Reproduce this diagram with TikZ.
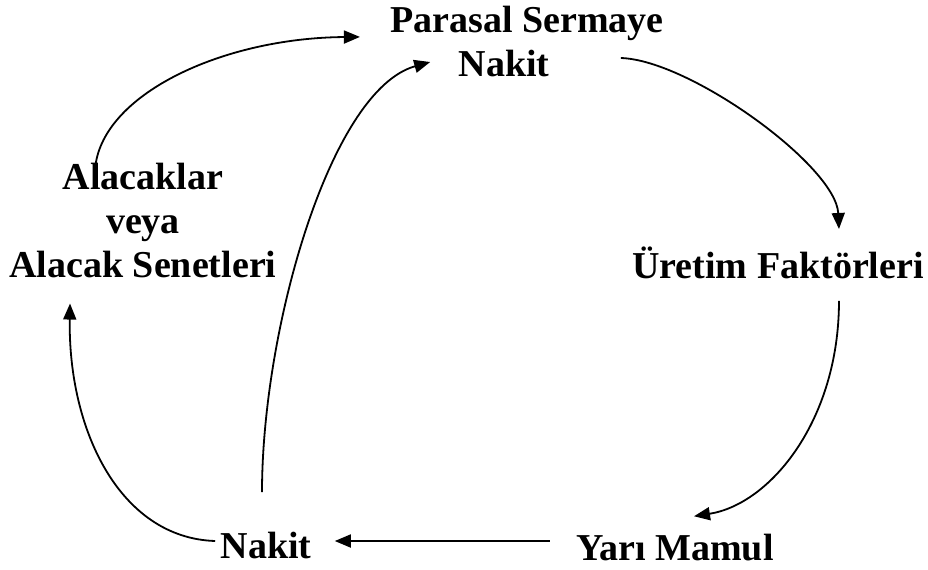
\documentclass[tikz,border=0pt]{standalone}
\usepackage{fontspec}
\setmainfont{Liberation Serif}
\usetikzlibrary{arrows.meta,calc}

\begin{document}
\begin{tikzpicture}[
    x=0.5pt, y=-0.5pt,
    stage/.style={inner sep=0pt, anchor=base, font=\fontsize{19}{22}\selectfont\bfseries},
    flow/.style={-{Triangle[length=8pt, width=6.5pt]}, line width=0.9pt},
  ]
  \useasboundingbox (0,0) rectangle (928,569);
  % stations of the cycle
  \node[stage] (ps) at (527,32) {Parasal Sermaye};
  \node[stage] (pn) at (504,76) {Nakit};
  \node[stage] (uf) at (778,278) {Üretim Faktörleri};
  \node[stage] (ym) at (675,560) {Yarı Mamul};
  \node[stage] (nk) at (266,558) {Nakit};
  \node[stage, anchor=north, align=center] (al) at (143,163)
    {Alacaklar\\veya\\Alacak Senetleri};
  % connectors
  \draw[flow] ($(pn.east)+(71,-5)$) .. controls +(69,2) and +(-3,-63) .. ($(uf.north)+(61,-17)$);
  \draw[flow] ($(uf.south)+(61,22)$) .. controls +(0,120) and +(76,-12) .. ($(ym.north)+(19,-17)$);
  \draw[flow] ($(ym.west)+(-26,-6)$) -- ($(nk.east)+(23,-4)$);
  \draw[flow] ($(nk.west)+(-5,-4)$) .. controls +(-95,-3) and +(-2,127) .. ($(al.south)+(-73,25)$);
  \draw[flow] ($(nk.north)+(-4,-39)$) .. controls +(0,-163) and +(-100,28) .. ($(pn.west)+(-28,-1)$);
  \draw[flow] ($(al.north)+(-48,7)$) .. controls +(5,-75) and +(-138,1) .. ($(ps.west)+(-30,14)$);
\end{tikzpicture}
\end{document}
